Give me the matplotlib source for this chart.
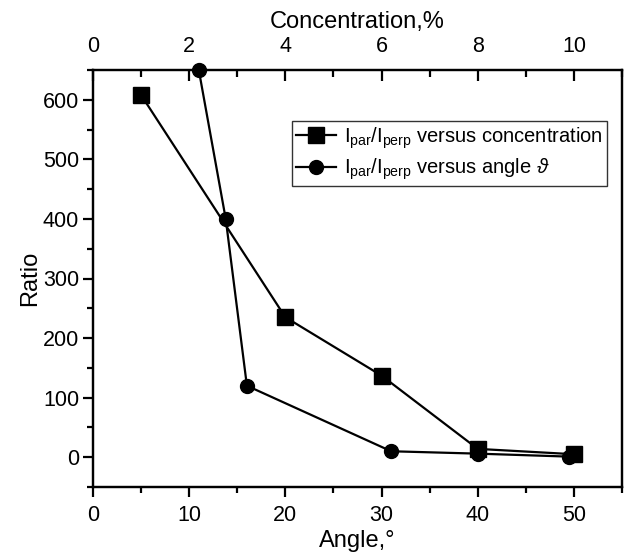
import matplotlib
matplotlib.use("Agg")
import matplotlib.pyplot as plt
from matplotlib.ticker import MultipleLocator

plt.rcParams['font.family'] = ['Liberation Sans', 'DejaVu Sans']
plt.rcParams['mathtext.fontset'] = 'custom'
plt.rcParams['mathtext.rm'] = 'Liberation Sans'
plt.rcParams['mathtext.it'] = 'Liberation Sans:italic'
plt.rcParams['mathtext.bf'] = 'Liberation Sans:bold'

# Data
conc = [1, 4, 6, 8, 10]
ratio_conc = [608, 235, 137, 14, 5]
angle = [11, 13.8, 16, 31, 40, 49.5]
ratio_angle = [650, 400, 120, 10, 6, 1]

fig = plt.figure(figsize=(6.27, 5.53), dpi=100)
ax = fig.add_axes([93/627, 1 - 487/553, (622-93)/627, (487-70)/553])
ax2 = ax.twiny()

lw = 1.6
l2, = ax.plot(angle, ratio_angle, '-o', color='black', lw=lw, ms=10,
              clip_on=False, zorder=3,
              label=r'I$_{\mathrm{par}}$/I$_{\mathrm{perp}}$ versus angle $\vartheta$')
l1, = ax2.plot(conc, ratio_conc, '-s', color='black', lw=lw, ms=12,
               clip_on=False, zorder=3,
               label=r'I$_{\mathrm{par}}$/I$_{\mathrm{perp}}$ versus concentration')

ax.set_xlim(0, 55)
ax.set_ylim(-50, 650)
ax2.set_xlim(0, 11)

ax.xaxis.set_major_locator(MultipleLocator(10))
ax.xaxis.set_minor_locator(MultipleLocator(5))
ax.yaxis.set_major_locator(MultipleLocator(100))
ax.yaxis.set_minor_locator(MultipleLocator(50))
ax2.xaxis.set_major_locator(MultipleLocator(2))
ax2.xaxis.set_minor_locator(MultipleLocator(1))

for a in (ax, ax2):
    for s in a.spines.values():
        s.set_linewidth(1.6)

ax.tick_params(axis='both', which='major', direction='out', length=7, width=1.6,
               labelsize=15.5, right=False, top=False, pad=3)
ax.tick_params(axis='x', which='major', pad=6)
ax.tick_params(axis='both', which='minor', direction='out', length=4, width=1.6,
               right=False, top=False)
ax2.tick_params(axis='x', which='major', direction='in', length=8, width=1.6,
                labelsize=15.5, pad=9)
ax2.tick_params(axis='x', which='minor', direction='in', length=5, width=1.6)

ax.set_xlabel('Angle,°', fontsize=17, labelpad=3)
ax.set_ylabel('Ratio', fontsize=17, labelpad=1)
ax2.set_xlabel('Concentration,%', fontsize=17, labelpad=6)

leg = ax2.legend(handles=[l1, l2], loc='upper left',
                 bbox_to_anchor=((292-93)/529, (487-121)/417),
                 fontsize=14.5, frameon=True, fancybox=False, edgecolor='black',
                 handlelength=2.0, handletextpad=0.4, borderpad=0.2,
                 labelspacing=0.3, borderaxespad=0)
leg.get_frame().set_linewidth(1.0)

fig.savefig('out.png', dpi=100)
